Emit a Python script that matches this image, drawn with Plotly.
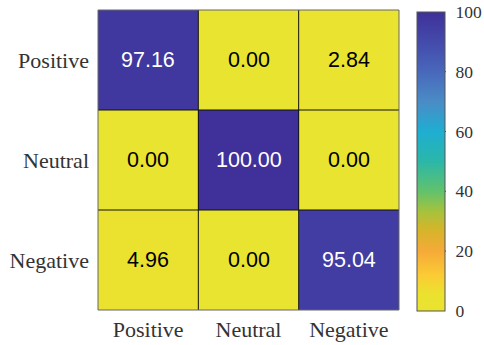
import plotly.graph_objects as go

# Confusion matrix (percent), rows = true class, columns = predicted class
classes = ["Positive", "Neutral", "Negative"]
row_positive = [97.16, 0.00, 2.84]
row_neutral = [0.00, 100.00, 0.00]
row_negative = [4.96, 0.00, 95.04]
matrix = [row_positive, row_neutral, row_negative]
cbar_ticks = [0, 20, 40, 60, 80, 100]

# Reversed parula-like scale: yellow at 0, indigo at 100
colorscale = [
    [0.00, "#e9e42f"],
    [0.06, "#ece12f"],
    [0.12, "#fbcb34"],
    [0.20, "#f6aa39"],
    [0.27, "#d6b42a"],
    [0.33, "#a9c23b"],
    [0.40, "#62c26c"],
    [0.50, "#2bb7a8"],
    [0.60, "#1eaed2"],
    [0.70, "#4a8cc6"],
    [0.80, "#4868bb"],
    [0.90, "#444aab"],
    [1.00, "#3f3199"],
]

# Colorbar geometry (paper units relative to the heatmap area)
cb_x = (417 - 98) / 301
cb_thick = 28
cb_y0 = -0.003
cb_len_px = 299
plot_h_px = 300
plot_w_px = 301

fig = go.Figure(
    go.Heatmap(
        z=matrix,
        x=classes,
        y=classes,
        zmin=0,
        zmax=100,
        colorscale=colorscale,
        colorbar=dict(
            x=cb_x,
            xanchor="left",
            y=cb_y0,
            yanchor="bottom",
            lenmode="pixels",
            len=cb_len_px,
            thickness=cb_thick,
            outlinewidth=1,
            outlinecolor="#555555",
            tickvals=cbar_ticks,
            ticks="outside",
            ticklen=7,
            tickcolor="rgba(0,0,0,0)",
            tickfont=dict(family="Liberation Serif", size=17.5, color="#333333"),
            xpad=0,
            ypad=0,
        ),
    )
)

# Short inward tick marks on the right edge of the colorbar
cb_right = cb_x + (cb_thick + 1) / plot_w_px
for t in cbar_ticks[1:-1]:
    ty = cb_y0 + (t / 100) * cb_len_px / plot_h_px
    fig.add_shape(type="line", xref="paper", yref="paper",
                  x0=cb_right - 3 / plot_w_px, x1=cb_right, y0=ty, y1=ty,
                  line=dict(color="#444444", width=1))

# Value labels in each cell
for i, row in enumerate(matrix):
    for j, v in enumerate(row):
        fig.add_annotation(
            x=classes[j],
            y=classes[i],
            text=f"{v:.2f}",
            showarrow=False,
            font=dict(
                family="Liberation Sans",
                size=21.5,
                color="white" if v > 50 else "black",
            ),
        )

# Cell borders
for k in (0.5, 1.5):
    fig.add_shape(type="line", xref="x", yref="paper", x0=k, x1=k, y0=0, y1=1,
                  line=dict(color="#111111", width=1))
    fig.add_shape(type="line", xref="paper", yref="y", x0=0, x1=1, y0=k, y1=k,
                  line=dict(color="#111111", width=1))
fig.add_shape(type="rect", xref="paper", yref="paper", x0=0, x1=1, y0=0, y1=1,
              line=dict(color="#666666", width=1))

axis_font = dict(family="Liberation Serif", size=22, color="#333333")
fig.update_xaxes(showgrid=False, zeroline=False, ticks="", tickfont=axis_font,
                 ticklabelstandoff=4, automargin=False)
fig.update_yaxes(showgrid=False, zeroline=False, ticks="", tickfont=axis_font,
                 autorange="reversed", ticklabelstandoff=8, automargin=False)

fig.update_layout(
    width=484,
    height=345,
    margin=dict(l=98, r=85, t=10, b=35, autoexpand=False),
    plot_bgcolor="white",
    paper_bgcolor="white",
)

fig.write_html("out.html")
